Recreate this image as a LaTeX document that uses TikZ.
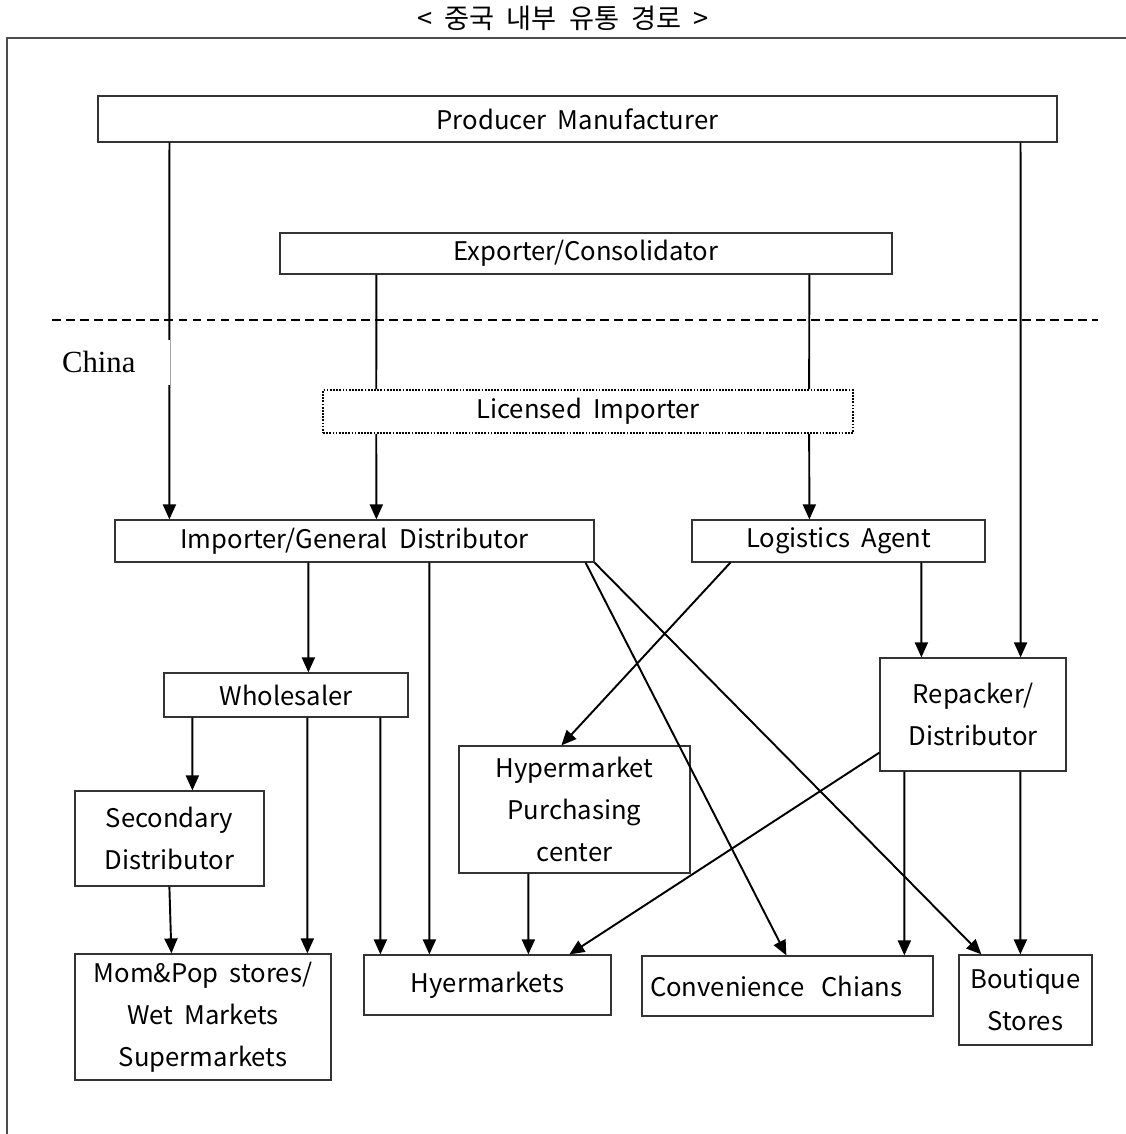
\documentclass[tikz,border=0pt]{standalone}
\usepackage{fontspec}
\setmainfont{Noto Sans CJK KR}
\newfontfamily\chinafont{Liberation Serif}
\usetikzlibrary{arrows, arrows.meta}

\tikzset{
  box/.style={draw=black!80, line width=0.7pt, align=center, inner sep=0pt},
  arr/.style={-{Triangle[length=0.3cm,width=0.26cm]}, line width=1.1pt},
  ln/.style={line width=1.1pt}
}

\begin{document}
\begin{tikzpicture}[x=0.02cm, y=-0.02cm, font=\fontsize{14.6}{24}\selectfont]
\useasboundingbox (0,0) rectangle (1126,1134);

%frame and title
\draw[line width=0.8pt, black!70] (1126,38) -- (7,38) -- (7,1134);
\node[font=\fontsize{15.5}{20}\selectfont] (title) at (563,18) {<\ \ 중국\ \ 내부\ \ 유통\ \ 경로\ \ >};

%border line
\draw[line width=1.1pt, dash pattern=on 5pt off 3pt] (52,320) -- (1098,320);

%boxes
\node[box, minimum width=19.18cm, minimum height=0.92cm] (prod) at (577.5,119) {Producer\ \ Manufacturer};
\node[box, minimum width=12.24cm, minimum height=0.82cm] (exp) at (586,253.5) {Exporter/Consolidator};
\node[box, draw=black, line width=0.9pt, dash pattern=on 1pt off 0.8pt, minimum width=10.6cm, minimum height=0.86cm] (lic) at (588,411.5) {Licensed\ \ Importer};
\node[box, minimum width=9.58cm, minimum height=0.84cm] (gen) at (354.5,541) {Importer/General\ \ Distributor};
\node[box, minimum width=5.86cm, minimum height=0.84cm] (log) at (838.5,541) {Logistics\ \ Agent};
\node[box, minimum width=4.88cm, minimum height=0.88cm] (whole) at (286,695) {Wholesaler};
\node[box, minimum width=3.72cm, minimum height=2.26cm] (rep) at (973,714.5) {Repacker/\\Distributor};
\node[box, minimum width=4.62cm, minimum height=2.54cm] (hyp) at (574.5,809.5) {Hypermarket\\Purchasing\\center};
\node[box, minimum width=3.78cm, minimum height=1.9cm] (sec) at (169.5,838.5) {Secondary\\Distributor};
\node[box, minimum width=5.12cm, minimum height=2.52cm] (mom) at (203,1017) {Mom\&Pop\ \ stores/\\Wet\ \ Markets\\Supermarkets};
\node[box, minimum width=4.94cm, minimum height=1.2cm] (hyer) at (487.5,985) {Hyermarkets};
\node[box, align=left, inner xsep=0.16cm, text width=5.5cm, minimum height=1.2cm] (conv) at (787.5,986) {Convenience\ \ Chians};
\node[box, minimum width=2.66cm, minimum height=1.8cm] (bout) at (1025.5,1000) {Boutique\\Stores};

%producer
\draw[arr] ([xshift=1.44cm]prod.south west) -- ([xshift=1.1cm]gen.north west);
\draw[arr] ([xshift=-0.74cm]prod.south east) -- ([xshift=-0.92cm]rep.north east);

%exporter through licensed importer
\draw[ln] ([xshift=1.94cm]exp.south west) -- ([xshift=1.08cm]lic.north west);
\draw[arr] ([xshift=1.08cm]lic.south west) -- ([xshift=5.24cm]gen.north west);
\draw[ln] ([xshift=10.6cm]exp.south west) -- ([xshift=9.74cm]lic.north west);
\draw[arr] ([xshift=9.74cm]lic.south west) -- ([xshift=2.36cm]log.north west);

\node[fill=white, text width=2.02cm, inner xsep=0.14cm, minimum height=0.9cm, align=left, font=\chinafont\fontsize{17.5}{20}\selectfont] (china) at (112.5,362) {China};

%importer / general distributor
\draw[arr] ([xshift=3.88cm]gen.south west) -- ([xshift=2.9cm]whole.north west);
\draw[arr] ([xshift=6.3cm]gen.south west) -- ([xshift=1.32cm]hyer.north west);
\draw[arr] ([xshift=-0.18cm]gen.south east) -- ([xshift=2.9cm]conv.north west);
\draw[arr] (gen.south east) -- ([xshift=0.46cm]bout.north west);

%logistics agent
\draw[arr] ([xshift=0.78cm]log.south west) -- ([xshift=2.06cm]hyp.north west);
\draw[arr] ([xshift=4.6cm]log.south west) -- ([xshift=0.84cm]rep.north west);

%wholesaler
\draw[arr] ([xshift=0.58cm]whole.south west) -- ([xshift=2.36cm]sec.north west);
\draw[arr] ([xshift=2.88cm]whole.south west) -- ([xshift=4.66cm]mom.north west);
\draw[arr] ([xshift=4.34cm]whole.south west) -- ([xshift=0.34cm]hyer.north west);

\draw[arr] ([xshift=1.9cm]sec.south west) -- ([xshift=1.94cm]mom.north west);
\draw[arr] ([xshift=1.4cm]hyp.south west) -- ([xshift=3.3cm]hyer.north west);

%repacker
\draw[arr] ([yshift=0.38cm]rep.south west) -- ([xshift=4.12cm]hyer.north west);
\draw[arr] ([xshift=0.5cm]rep.south west) -- ([xshift=5.26cm]conv.north west);
\draw[arr] ([xshift=2.82cm]rep.south west) -- ([xshift=1.24cm]bout.north west);

\end{tikzpicture}
\end{document}
